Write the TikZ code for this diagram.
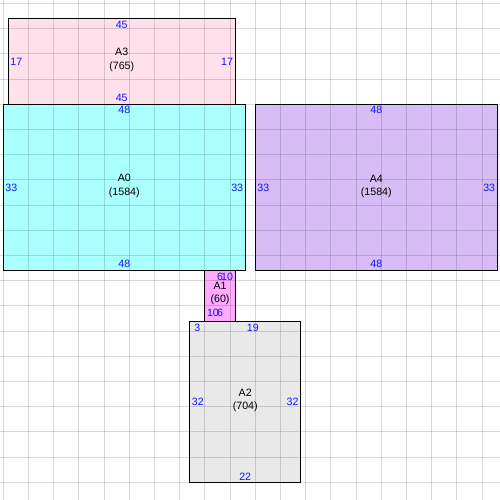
\documentclass[tikz,border=0pt]{standalone}
\usepackage{fontspec}
\setmainfont{Liberation Sans}
\definecolor{cA3}{RGB}{255,224,235}
\definecolor{cA0}{RGB}{170,255,255}
\definecolor{cA4}{RGB}{216,188,245}
\definecolor{cA1}{RGB}{255,170,255}
\definecolor{cA2}{RGB}{233,233,233}
\definecolor{dimblue}{RGB}{20,20,255}
\begin{document}
\begin{tikzpicture}[x=1mm,y=-1mm,
  box/.style={draw=black,line width=0.55pt,inner sep=0pt,outer sep=0pt},
  gridline/.style={draw=black,draw opacity=0.15,line width=0.5pt},
  dim/.style={text=dimblue,font=\fontsize{6}{7}\selectfont,inner sep=0pt},
  nm/.style={font=\fontsize{6}{7.5}\selectfont,align=center,inner sep=0pt}]
\useasboundingbox (-0.655,-20.69) rectangle (98.55,78.51);
\fill[white] (-0.655,-20.69) rectangle (98.55,78.51);
% boxes
\node[box,fill=cA3,minimum width=45mm,minimum height=17mm] (A3) at (23.5,-8.5) {};
\node[box,fill=cA0,minimum width=48mm,minimum height=33mm] (A0) at (24,16.5) {};
\node[box,fill=cA4,minimum width=48mm,minimum height=33mm] (A4) at (74,16.5) {};
\node[box,fill=cA1,minimum width=6mm,minimum height=10mm] (A1) at (43,38) {};
\node[box,fill=cA2,minimum width=22mm,minimum height=32mm] (A2) at (48,59) {};
% grid
\foreach \i in {0,5,...,95} \draw[gridline] (\i,-20.69) -- (\i,78.51);
\foreach \j in {-20,-15,...,75} \draw[gridline] (-0.655,\j) -- (98.55,\j);
% A3 labels
\node[nm] (nA3) at (23.5,-8.8) {A3\\(765)};
\node[dim] (a3t) at (23.5,-15.7) {45};
\node[dim] (a3b) at (23.5,-1.25) {45};
\node[dim,anchor=west] (a3l) at (1.35,-8.5) {17};
\node[dim,anchor=east] (a3r) at (45.65,-8.5) {17};
% A0 labels
\node[nm] (nA0) at (24,16.2) {A0\\(1584)};
\node[dim] (a0t) at (24,1.15) {48};
\node[dim] (a0b) at (24,31.6) {48};
\node[dim,anchor=west] (a0l) at (0.35,16.6) {33};
\node[dim,anchor=east] (a0r) at (47.65,16.6) {33};
% A4 labels
\node[nm] (nA4) at (74,16.3) {A4\\(1584)};
\node[dim] (a4t) at (74,1.2) {48};
\node[dim] (a4b) at (74,31.6) {48};
\node[dim,anchor=west] (a4l) at (50.35,16.6) {33};
\node[dim,anchor=east] (a4r) at (97.65,16.6) {33};
% A1 labels
\node[nm] (nA1) at (43,37.6) {A1\\(60)};
\node[dim] (a1t) at (43,34.3) {6};
\node[dim,anchor=east] (a1r) at (45.65,34.3) {10};
\node[dim,anchor=west] (a1l) at (40.35,41.4) {10};
\node[dim] (a1b) at (43,41.4) {6};
% A2 labels
\node[nm] (nA2) at (48,58.7) {A2\\(704)};
\node[dim] (a2t1) at (38.5,44.4) {3};
\node[dim] (a2t2) at (49.5,44.4) {19};
\node[dim,anchor=west] (a2l) at (37.35,59.1) {32};
\node[dim,anchor=east] (a2r) at (58.65,59.1) {32};
\node[dim] (a2b) at (48,73.9) {22};
\end{tikzpicture}
\end{document}
